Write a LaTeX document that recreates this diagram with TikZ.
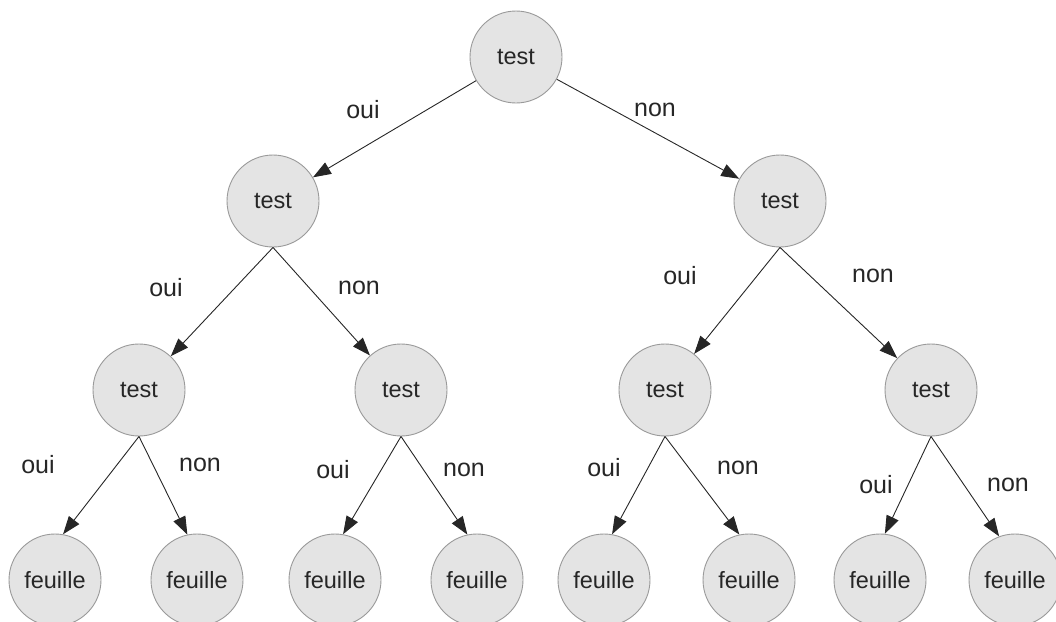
\documentclass[tikz,border=0pt]{standalone}
\usepackage{fontspec}
\setmainfont{Liberation Sans}
\usetikzlibrary{arrows.meta}
\definecolor{nodefill}{HTML}{E4E4E4}
\definecolor{nodeline}{HTML}{9A9A9A}
\definecolor{ink}{HTML}{262626}
\tikzset{
  testnode/.style={circle, draw=nodeline, fill=nodefill, line width=0.9pt, minimum size=92pt, inner sep=0pt, text=ink, font=\fontsize{23.5}{26}\selectfont},
  edgearrow/.style={draw=ink, line width=0.9pt, -{Triangle[length=18pt,width=13pt]}},
  lbl/.style={text=ink, font=\fontsize{25}{28}\selectfont, inner sep=0pt}
}
\begin{document}
\begin{tikzpicture}[x=1pt,y=-1pt]
\useasboundingbox (0,0) rectangle (1056,621);
\clip (0,0) rectangle (1056,621);
% nodes
\node[testnode] (r) at (516,57) {test};
\node[testnode] (a) at (273,201) {test};
\node[testnode] (b) at (780,201) {test};
\node[testnode] (aa) at (139,390) {test};
\node[testnode] (ab) at (401,390) {test};
\node[testnode] (ba) at (665,390) {test};
\node[testnode] (bb) at (931,390) {test};
\node[testnode] (l1) at (55,580) {feuille};
\node[testnode] (l2) at (197,580) {feuille};
\node[testnode] (l3) at (335,580) {feuille};
\node[testnode] (l4) at (477,580) {feuille};
\node[testnode] (l5) at (604,580) {feuille};
\node[testnode] (l6) at (749,580) {feuille};
\node[testnode] (l7) at (880,580) {feuille};
\node[testnode] (l8) at (1015,580) {feuille};
% edges
\draw[edgearrow] (r) -- (a);
\draw[edgearrow] (r) -- (b);
\draw[edgearrow] (a.south) -- (aa);
\draw[edgearrow] (a.south) -- (ab);
\draw[edgearrow] (b.south) -- (ba);
\draw[edgearrow] (b.south) -- (bb);
\draw[edgearrow] (aa.south) -- (l1.80);
\draw[edgearrow] (aa.south) -- (l2.102);
\draw[edgearrow] (ab.south) -- (l3.80);
\draw[edgearrow] (ab.south) -- (l4.102);
\draw[edgearrow] (ba.south) -- (l5.80);
\draw[edgearrow] (ba.south) -- (l6.102);
\draw[edgearrow] (bb.south) -- (l7.84);
\draw[edgearrow] (bb.south) -- (l8.110);
% labels
\node[lbl] (t1) at (363,110) {oui};
\node[lbl] (t2) at (655,110) {non};
\node[lbl] (t3) at (166,288) {oui};
\node[lbl] (t4) at (359,288) {non};
\node[lbl] (t5) at (680,276) {oui};
\node[lbl] (t6) at (873,276) {non};
\node[lbl] (t7) at (38,465) {oui};
\node[lbl] (t8) at (200,465) {non};
\node[lbl] (t9) at (333,470) {oui};
\node[lbl] (t10) at (464,470) {non};
\node[lbl] (t11) at (604,468) {oui};
\node[lbl] (t12) at (738,468) {non};
\node[lbl] (t13) at (876,485) {oui};
\node[lbl] (t14) at (1008,485) {non};
\end{tikzpicture}
\end{document}
